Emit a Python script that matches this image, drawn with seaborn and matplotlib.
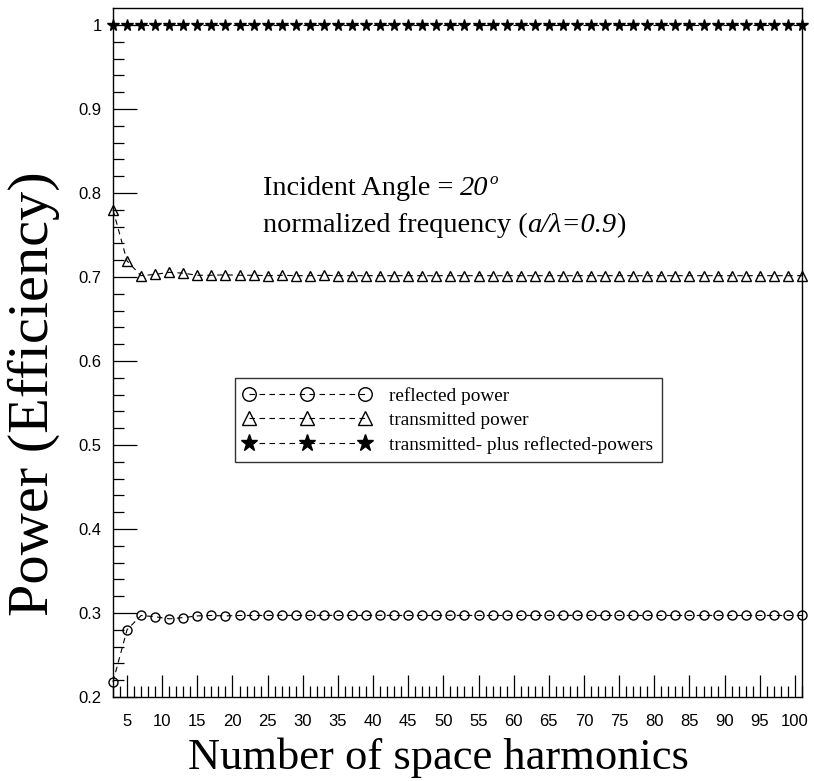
import numpy as np
import matplotlib
matplotlib.use("Agg")
import matplotlib.pyplot as plt
import seaborn as sns

# Number of space harmonics used in the expansion
harmonics = list(range(3, 102, 2))

reflected = [0.218, 0.280, 0.297, 0.2955, 0.293, 0.2945, 0.2965, 0.297, 0.2965, 0.297,
             0.297, 0.297, 0.2972, 0.297, 0.297, 0.2972, 0.297, 0.297, 0.297, 0.2972,
             0.297, 0.297, 0.297, 0.297, 0.2972, 0.297, 0.297, 0.297, 0.297, 0.297,
             0.297, 0.297, 0.2972, 0.297, 0.297, 0.297, 0.297, 0.297, 0.297, 0.297,
             0.297, 0.297, 0.297, 0.297, 0.297, 0.297, 0.297, 0.297, 0.297, 0.297]

transmitted = [0.780, 0.719, 0.7015, 0.703, 0.7055, 0.7045, 0.702, 0.702, 0.7025, 0.702,
               0.702, 0.7015, 0.702, 0.7015, 0.7015, 0.702, 0.7015, 0.7015, 0.7015, 0.7015,
               0.7015, 0.7015, 0.7015, 0.7015, 0.7015, 0.7015, 0.7015, 0.7015, 0.7015, 0.7015,
               0.7015, 0.7015, 0.7015, 0.7015, 0.7015, 0.7015, 0.7015, 0.7015, 0.7015, 0.7015,
               0.7015, 0.7015, 0.7015, 0.7015, 0.7015, 0.7015, 0.7015, 0.7015, 0.7015, 0.7015]

total = [1.000] * 50

series_labels = ["reflected power", "transmitted power",
                 "transmitted- plus reflected-powers"]

x_major_ticks = list(range(5, 101, 5))
y_major_ticks = [0.2, 0.3, 0.4, 0.5, 0.6, 0.7, 0.8, 0.9, 1.0]
y_tick_labels = ["0.2", "0.3", "0.4", "0.5", "0.6", "0.7", "0.8", "0.9", "1"]

sns.set_style("white")
plt.rcParams["font.family"] = ["Liberation Sans", "DejaVu Sans"]
for key in ("text.color", "axes.labelcolor", "xtick.color", "ytick.color"):
    plt.rcParams[key] = "black"

SERIF = ["Liberation Serif", "DejaVu Serif"]

fig = plt.figure(figsize=(8.14, 7.81), dpi=100)
ax = fig.add_axes([0.1388, 0.1076, 0.8464, 0.8822])

dash = (0, (5, 4))
common = dict(ax=ax, color="black", linestyle=dash, linewidth=0.8,
              markeredgecolor="black", markeredgewidth=1.0, clip_on=False)

sns.lineplot(x=harmonics, y=reflected, marker="o", markersize=6.5,
             markerfacecolor="none", label=series_labels[0], **common)
sns.lineplot(x=harmonics, y=transmitted, marker="^", markersize=7,
             markerfacecolor="none", label=series_labels[1], **common)
sns.lineplot(x=harmonics, y=total, marker="*", markersize=8.5,
             markerfacecolor="black", label=series_labels[2], **common)

ax.set_xlim(3, 101)
ax.set_ylim(0.2, 1.0202)

ax.set_xticks(x_major_ticks)
ax.set_xticks(list(range(3, 102)), minor=True)
ax.set_yticks(y_major_ticks)
ax.set_yticklabels(y_tick_labels)
ax.set_yticks(list(np.round(np.arange(0.2, 1.02, 0.02), 2)), minor=True)

ax.tick_params(axis="both", which="both", direction="in", bottom=True, left=True,
               top=False, right=False, colors="black", width=0.9)
ax.tick_params(axis="x", which="major", length=16, pad=12, labelsize=12)
ax.tick_params(axis="x", which="minor", length=8)
ax.tick_params(axis="y", which="major", length=17, pad=8, labelsize=12)
ax.tick_params(axis="y", which="minor", length=8)

for sp in ax.spines.values():
    sp.set_color("black")
    sp.set_linewidth(1.0)

ax.set_xlabel("Number of space harmonics", fontsize=32, family=SERIF,
              ha="center", va="center")
ax.xaxis.set_label_coords(0.473, -0.0885)
ax.set_ylabel("Power (Efficiency)", fontsize=42, family=SERIF,
              ha="center", va="center")
ax.yaxis.set_label_coords(-0.1147, 0.44)

# Annotation: roman text followed by italic values, chained piece by piece
fs = 20.4
t1 = ax.text(24.3, 0.7976, "Incident Angle = ", fontsize=fs, family=SERIF,
             va="baseline", ha="left")
t2 = ax.annotate("20", xy=(1, 0), xycoords=t1, va="bottom", ha="left",
                 fontsize=fs, family=SERIF, style="italic")
ax.annotate("o", xy=(1, 1.0), xycoords=t2, xytext=(0.5, 2.5),
            textcoords="offset points", va="top", ha="left",
            fontsize=fs * 0.6, family=SERIF, style="italic")

t4 = ax.text(24.3, 0.7536, "normalized frequency (", fontsize=fs, family=SERIF,
             va="baseline", ha="left")
t5 = ax.annotate("a/\u03bb=0.9", xy=(1, 0), xycoords=t4, va="bottom", ha="left",
                 fontsize=fs, family=SERIF, style="italic")
ax.annotate(")", xy=(1, 0), xycoords=t5, va="bottom", ha="left",
            fontsize=fs, family=SERIF)

leg = ax.legend(loc="upper left", bbox_to_anchor=(0.177, 0.463),
                borderaxespad=0, numpoints=3, markerscale=1.5,
                handlelength=6.6, handletextpad=0.95, labelspacing=0.36,
                fancybox=False, frameon=True, edgecolor="black",
                prop={"family": SERIF, "size": 13.9}, borderpad=0.45)
leg.get_frame().set_linewidth(1.0)

fig.savefig("out.png", dpi=100)
